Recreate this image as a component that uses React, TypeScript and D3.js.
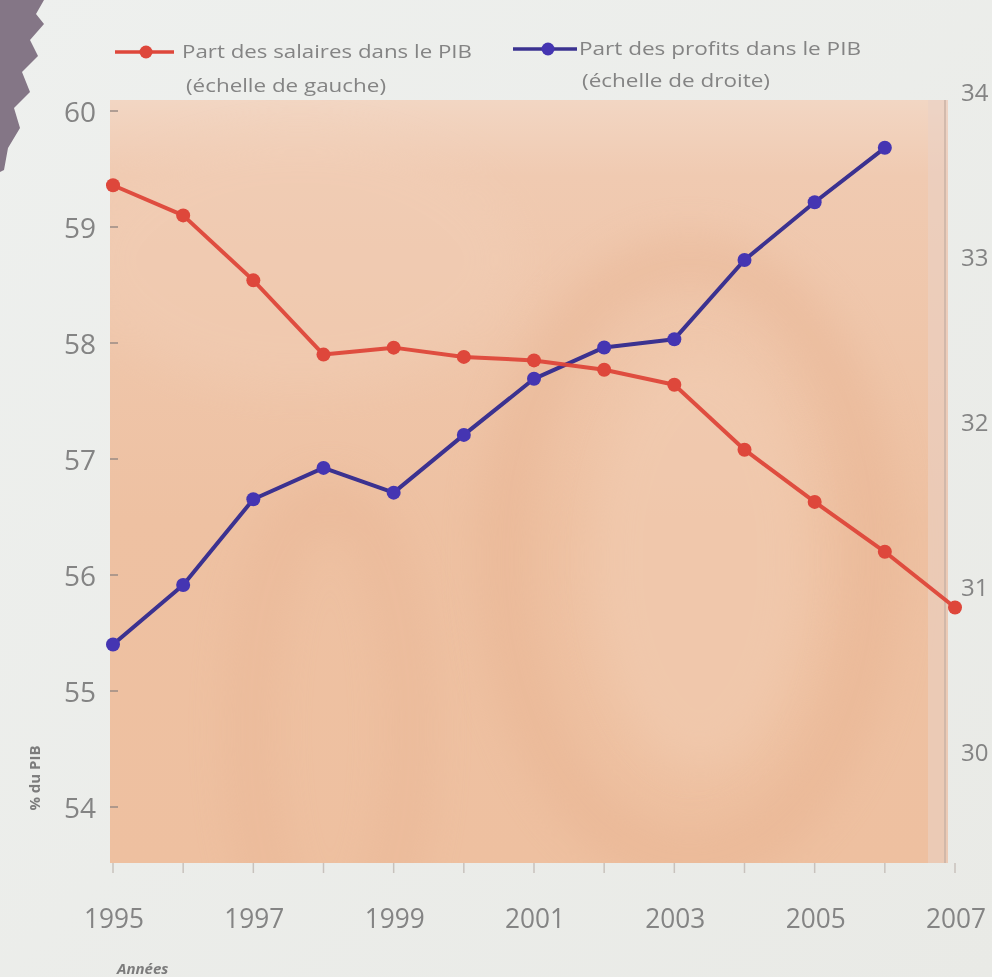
import React from "react";
import * as d3 from "d3";

const years = [1995, 1996, 1997, 1998, 1999, 2000, 2001, 2002, 2003, 2004, 2005, 2006, 2007];
const wageShare = [59.36, 59.1, 58.54, 57.9, 57.96, 57.88, 57.85, 57.77, 57.64, 57.08, 56.63, 56.2, 55.72];
const profitYears = [1995, 1996, 1997, 1998, 1999, 2000, 2001, 2002, 2003, 2004, 2005, 2006];
const profitShare = [30.67, 31.03, 31.55, 31.74, 31.59, 31.94, 32.28, 32.47, 32.52, 33.0, 33.35, 33.68];
const leftTicks = [54, 55, 56, 57, 58, 59, 60];
const rightTicks = [30, 31, 32, 33, 34];
const xLabelYears = [1995, 1997, 1999, 2001, 2003, 2005, 2007];
const legendWage = ["Part des salaires dans le PIB", "(échelle de gauche)"];
const legendProfit = ["Part des profits dans le PIB", "(échelle de droite)"];
const yAxisTitle = "% du PIB";
const xAxisTitle = "Années";

const W = 992;
const H = 977;
const plot = { left: 110, top: 100, right: 948, bottom: 863 };
const RED = "#de463a";
const BLUE_LINE = "#3a3090";
const BLUE_DOT = "#4436b2";
const TEXT = "#848484";
const FONT = "'Open Sans', 'Noto Sans', sans-serif";

export default function App() {
  const x = d3.scaleLinear().domain([1995, 2007]).range([113, 955]);
  const yL = d3.scaleLinear().domain([54, 60]).range([807, 111]);
  const yR = d3.scaleLinear().domain([30, 34]).range([755, 95]);

  const wagePts = years.map((yr, i) => [x(yr), yL(wageShare[i])] as [number, number]);
  const profitPts = profitYears.map((yr, i) => [x(yr), yR(profitShare[i])] as [number, number]);
  const line = d3.line();

  const leg1 = { x0: 115, x1: 174, y: 52, m: 146 };
  const leg2 = { x0: 513, x1: 577, y: 49, m: 548 };

  return (
    <svg
      width={W}
      height={H}
      viewBox={`0 0 ${W} ${H}`}
      style={{ position: "absolute", left: 0, top: 0, display: "block" }}
    >
      <defs>
        <linearGradient id="pageBg" x1="0" y1="0" x2="1" y2="1">
          <stop offset="0%" stopColor="#eef0ee" />
          <stop offset="100%" stopColor="#e9eae6" />
        </linearGradient>
        <linearGradient id="plotBg" x1="0" y1="0" x2="0" y2="1">
          <stop offset="0%" stopColor="#f2d6c3" />
          <stop offset="10%" stopColor="#f0cab1" />
          <stop offset="55%" stopColor="#eec1a2" />
          <stop offset="100%" stopColor="#eec0a0" />
        </linearGradient>
        <filter id="soft" x="-50%" y="-50%" width="200%" height="200%">
          <feGaussianBlur stdDeviation="22" />
        </filter>
        <filter id="txtBlur">
          <feGaussianBlur stdDeviation="0.6" />
        </filter>
        <filter id="lineBlur">
          <feGaussianBlur stdDeviation="0.5" />
        </filter>
        <clipPath id="plotClip">
          <rect x={plot.left} y={plot.top} width={plot.right - plot.left} height={plot.bottom - plot.top} />
        </clipPath>
      </defs>

      <rect x={0} y={0} width={W} height={H} fill="url(#pageBg)" />
      <path
        d="M0,0 L44,0 L36,14 L44,24 L30,40 L38,56 L22,72 L30,92 L14,108 L20,128 L8,148 L4,170 L0,172 Z"
        fill="#847686"
      />

      {/* plot background */}
      <rect
        x={plot.left}
        y={plot.top}
        width={plot.right - plot.left}
        height={plot.bottom - plot.top}
        fill="url(#plotBg)"
      />
      <g clipPath="url(#plotClip)">
        <ellipse cx={690} cy={560} rx={185} ry={300} fill="none" stroke="#e6b08e" strokeWidth={46} opacity={0.45} filter="url(#soft)" />
        <ellipse cx={700} cy={560} rx={110} ry={210} fill="#f3d0b8" opacity={0.45} filter="url(#soft)" />
        <ellipse cx={330} cy={730} rx={80} ry={230} fill="none" stroke="#e7b292" strokeWidth={40} opacity={0.45} filter="url(#soft)" />
        <ellipse cx={300} cy={260} rx={220} ry={130} fill="#f2d0b9" opacity={0.35} filter="url(#soft)" />
        <rect x={928} y={plot.top} width={20} height={plot.bottom - plot.top} fill="#ead2c6" opacity={0.55} />
        <line x1={945} x2={945} y1={plot.top} y2={plot.bottom} stroke="#c9b2a6" strokeWidth={1.5} />
      </g>

      {/* left ticks */}
      {leftTicks.map((t) => (
        <line key={`lt${t}`} x1={plot.left} x2={plot.left + 8} y1={yL(t)} y2={yL(t)} stroke="#9a8b84" strokeWidth={1.5} />
      ))}
      {/* bottom ticks */}
      {years.map((yr) => (
        <line key={`bt${yr}`} x1={x(yr)} x2={x(yr)} y1={plot.bottom} y2={plot.bottom + 10} stroke="#c8c2bd" strokeWidth={1.5} />
      ))}

      {/* series */}
      <g filter="url(#lineBlur)">
        <path d={line(profitPts) || ""} fill="none" stroke={BLUE_LINE} strokeWidth={4} strokeLinejoin="round" />
        {profitPts.map(([px, py], i) => (
          <circle key={`p${i}`} cx={px} cy={py} r={7} fill={BLUE_DOT} />
        ))}
        <path d={line(wagePts) || ""} fill="none" stroke={RED} strokeWidth={4} strokeLinejoin="round" opacity={0.95} />
        {wagePts.map(([px, py], i) => (
          <circle key={`w${i}`} cx={px} cy={py} r={7} fill={RED} />
        ))}
      </g>

      {/* texts */}
      <g filter="url(#txtBlur)" fontFamily={FONT} fill={TEXT}>
        {leftTicks.map((t) => (
          <text key={`ll${t}`} x={96} y={yL(t) + 4} fontSize={28} textAnchor="end" dominantBaseline="middle">
            {t}
          </text>
        ))}
        {rightTicks.map((t) => (
          <text key={`rl${t}`} x={961} y={yR(t)} fontSize={24} textAnchor="start" dominantBaseline="middle">
            {t}
          </text>
        ))}
        {xLabelYears.map((yr) => (
          <text key={`xl${yr}`} x={x(yr) + 1} y={928} fontSize={28} textAnchor="middle" textLength={60} lengthAdjust="spacingAndGlyphs">
            {yr}
          </text>
        ))}
        <text
          transform={`translate(40, 778) rotate(-90)`}
          fontSize={15}
          fontWeight={700}
          textAnchor="middle"
          fill="#7c7c7c"
        >
          {yAxisTitle}
        </text>
        <text x={117} y={974} fontSize={15} fontWeight={700} fontStyle="italic" fill="#7c7c7c">
          {xAxisTitle}
        </text>

        {/* legend */}
        <text x={182} y={58} fontSize={19} textLength={290} lengthAdjust="spacingAndGlyphs">
          {legendWage[0]}
        </text>
        <text x={186} y={92} fontSize={19} textLength={200} lengthAdjust="spacingAndGlyphs">
          {legendWage[1]}
        </text>
        <text x={579} y={55} fontSize={19} textLength={282} lengthAdjust="spacingAndGlyphs">
          {legendProfit[0]}
        </text>
        <text x={582} y={87} fontSize={19} textLength={188} lengthAdjust="spacingAndGlyphs">
          {legendProfit[1]}
        </text>
      </g>
      <g filter="url(#lineBlur)">
        <line x1={leg1.x0} x2={leg1.x1} y1={leg1.y} y2={leg1.y} stroke={RED} strokeWidth={3.5} />
        <circle cx={leg1.m} cy={leg1.y} r={6.5} fill={RED} />
        <line x1={leg2.x0} x2={leg2.x1} y1={leg2.y} y2={leg2.y} stroke={BLUE_LINE} strokeWidth={3.5} />
        <circle cx={leg2.m} cy={leg2.y} r={6.5} fill={BLUE_DOT} />
      </g>
    </svg>
  );
}
